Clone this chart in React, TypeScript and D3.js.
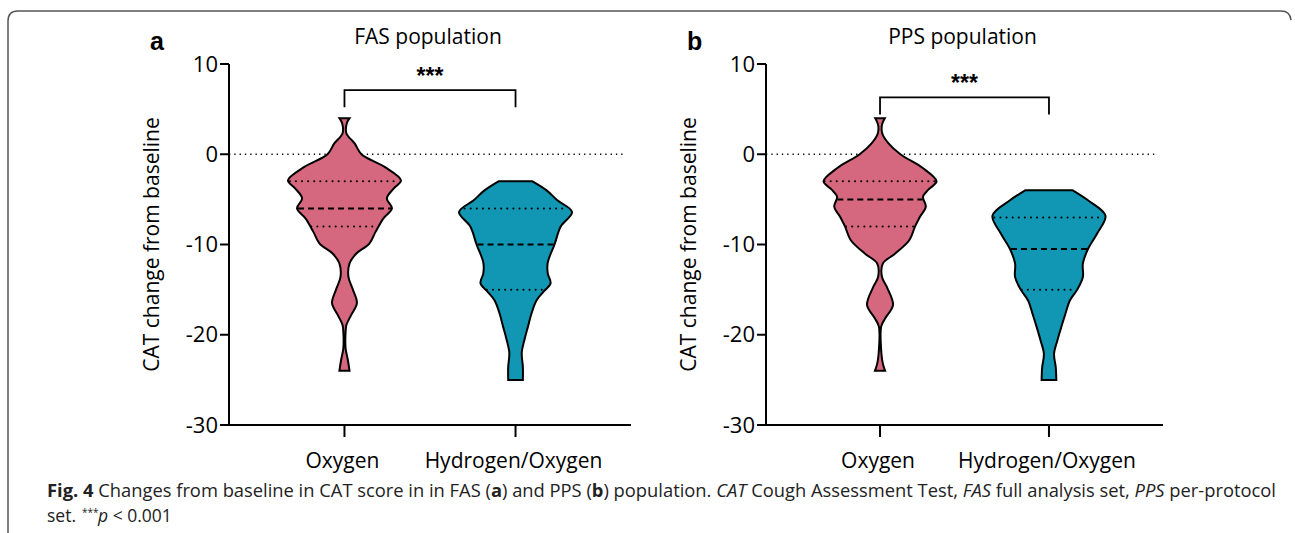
import React from 'react';
import * as d3 from 'd3';

// violin outlines: [value, relative half-width]
const fasOxygen: [number, number][] = [
  [4, 0.09], [3.4, 0.04], [2.3, 0.035], [1.2, 0.18], [0, 0.3], [-1.4, 0.71], [-2.9, 1.0],
  [-3.8, 0.87], [-4.9, 0.75], [-6, 0.84], [-7.1, 0.69], [-8.6, 0.55], [-9.9, 0.44],
  [-11, 0.21], [-12.1, 0.09], [-13.6, 0.07], [-15, 0.15], [-16.5, 0.22], [-17.8, 0.12],
  [-18.9, 0.035], [-19.7, 0.02], [-21.5, 0.02], [-22.8, 0.06], [-24, 0.09],
];
const fasHydrogen: [number, number][] = [
  [-3, 0.3], [-4, 0.55], [-5.1, 0.74], [-6.4, 1.0], [-8, 0.8], [-10, 0.69], [-12, 0.57],
  [-13.2, 0.57], [-14.3, 0.62], [-15.2, 0.5], [-16.2, 0.37], [-17.7, 0.28], [-19.1, 0.22],
  [-20.5, 0.16], [-22, 0.11], [-23.6, 0.13], [-25, 0.13],
];
const ppsOxygen: [number, number][] = [
  [4, 0.085], [3.3, 0.035], [2.3, 0.04], [1.2, 0.15], [0, 0.36], [-1.5, 0.75], [-3, 1.0],
  [-3.9, 0.86], [-4.7, 0.76], [-5.8, 0.81], [-7, 0.7], [-8, 0.62], [-9.5, 0.52], [-11, 0.27],
  [-12.1, 0.05], [-13.6, 0.035], [-14.7, 0.12], [-16.7, 0.23], [-18.2, 0.09], [-19.1, 0.02],
  [-22.1, 0.025], [-23.2, 0.05], [-24, 0.09],
];
const ppsHydrogen: [number, number][] = [
  [-4, 0.42], [-5.1, 0.69], [-6.8, 1.0], [-8.8, 0.85], [-10.5, 0.69], [-12.1, 0.6],
  [-13.6, 0.6], [-15, 0.5], [-16.2, 0.37], [-17.7, 0.29], [-19.1, 0.22], [-20.6, 0.15],
  [-22.1, 0.09], [-23.6, 0.12], [-25, 0.13],
];

// quartiles [q1, median, q3]
const fasOxygenQ = [-3, -6, -8];
const fasHydrogenQ = [-6, -10, -15];
const ppsOxygenQ = [-3, -5, -8];
const ppsHydrogenQ = [-7, -10.5, -15];

const categories = ['Oxygen', 'Hydrogen/Oxygen'];
const yTicks = [10, 0, -10, -20, -30];
const colors = ['#d5677e', '#1197b3'];

const panels = [
  { letter: 'a', title: 'FAS population', left: 229, right: 631, bracket: 7.1,
    violins: [fasOxygen, fasHydrogen], quart: [fasOxygenQ, fasHydrogenQ] },
  { letter: 'b', title: 'PPS population', left: 766, right: 1163, bracket: 6.3,
    violins: [ppsOxygen, ppsHydrogen], quart: [ppsOxygenQ, ppsHydrogenQ] },
];

const font = "'Open Sans', sans-serif";

const y = d3.scaleLinear().domain([-30, 10]).range([425, 64]);
const w = d3.scaleLinear().domain([0, 1]).range([0, 56.5]);

function halfWidthAt(profile: [number, number][], v: number) {
  const s = d3.scaleLinear().domain(profile.map(p => p[0])).range(profile.map(p => p[1]));
  return w(s(v));
}

const Panel = ({ p }: { p: typeof panels[0] }) => {
  const x = d3.scalePoint<string>().domain(categories).range([p.left, p.right]).padding(0.675);
  const axisX = p.left;
  return (
    <g>
      <text x={axisX - 79} y={50} fontFamily="Arial, sans-serif" fontWeight="bold" fontSize={25}>{p.letter}</text>
      <text x={(p.left + p.right) / 2 - 2} y={44} textAnchor="middle" fontFamily={font} fontSize={21}>{p.title}</text>
      <text transform={`translate(${axisX - 70},${y(-10)}) rotate(-90)`} textAnchor="middle"
        fontFamily={font} fontSize={21}>CAT change from baseline</text>
      {/* zero reference */}
      <line x1={axisX} x2={p.right - 5} y1={y(0)} y2={y(0)} stroke="#000" strokeWidth={1.3}
        strokeDasharray="1.3,4" />
      {p.violins.map((prof, i) => {
        const cx = x(categories[i])!;
        const area = d3.area<[number, number]>()
          .y(d => y(d[0]))
          .x0(d => cx - w(d[1]))
          .x1(d => cx + w(d[1]))
          .curve(d3.curveCatmullRom);
        return (
          <g key={i}>
            <path d={area(prof)!} fill={colors[i]} stroke="#000" strokeWidth={2} />
            {p.quart[i].map((q, j) => {
              const hw = halfWidthAt(prof, q) - 1;
              return (
                <line key={j} x1={cx - hw} x2={cx + hw} y1={y(q)} y2={y(q)} stroke="#000"
                  strokeWidth={2} strokeDasharray={j === 1 ? '6,4' : '0.1,6'}
                  strokeLinecap={j === 1 ? 'butt' : 'round'} />
              );
            })}
          </g>
        );
      })}
      {/* significance bracket */}
      <path d={`M${x(categories[0])},${y(p.bracket) + 17}V${y(p.bracket)}H${x(categories[1])}V${y(p.bracket) + 17}`}
        fill="none" stroke="#000" strokeWidth={1.8} />
      <text x={(x(categories[0])! + x(categories[1])!) / 2} y={y(p.bracket) - 6} textAnchor="middle"
        fontFamily="Arial, sans-serif" fontWeight="bold" fontSize={23}>***</text>
      {/* axes */}
      <line x1={axisX} x2={axisX} y1={y(10)} y2={y(-30)} stroke="#000" strokeWidth={2} />
      <line x1={axisX} x2={p.right} y1={y(-30)} y2={y(-30)} stroke="#000" strokeWidth={2} />
      {yTicks.map(t => (
        <g key={t}>
          <line x1={axisX - 9} x2={axisX} y1={y(t)} y2={y(t)} stroke="#000" strokeWidth={2} />
          <text x={axisX - 11} y={y(t)} dy="0.35em" textAnchor="end" fontFamily={font} fontSize={22}>{t}</text>
        </g>
      ))}
      {categories.map(c => (
        <g key={c}>
          <line x1={x(c)} x2={x(c)} y1={y(-30)} y2={y(-30) + 12} stroke="#000" strokeWidth={2} />
          <text x={x(c)! - 2} y={y(-30) + 43} textAnchor="middle" fontFamily={font} fontSize={21}>{c}</text>
        </g>
      ))}
    </g>
  );
};

export default function App() {
  return (
    <svg width={1295} height={533} style={{ position: 'absolute', left: 0, top: 0, background: '#fff' }}>
      <path d="M8,533V21Q8,11,18,11H1281Q1290,11,1291,20" fill="none" stroke="#555" strokeWidth={1.5} />
      {panels.map(p => <Panel key={p.letter} p={p} />)}
      <text x={47} y={497} fontFamily="'Open Sans', sans-serif" fontSize={17.5} fill="#222"
        textLength={1229} lengthAdjust="spacingAndGlyphs">
        <tspan fontWeight="bold">Fig. 4</tspan>
        <tspan>{'  Changes from baseline in CAT score in in FAS ('}</tspan>
        <tspan fontWeight="bold">a</tspan>
        <tspan>{') and PPS ('}</tspan>
        <tspan fontWeight="bold">b</tspan>
        <tspan>{') population. '}</tspan>
        <tspan fontStyle="italic">CAT</tspan>
        <tspan>{' Cough Assessment Test, '}</tspan>
        <tspan fontStyle="italic">FAS</tspan>
        <tspan>{' full analysis set, '}</tspan>
        <tspan fontStyle="italic">PPS</tspan>
        <tspan>{' per-protocol'}</tspan>
      </text>
      <text x={47} y={522} fontFamily={font} fontSize={17.5} fill="#222">set.</text>
      <text x={82} y={516} fontFamily={font} fontSize={10} fill="#222">***</text>
      <text x={98} y={522} fontFamily={font} fontSize={17.5} fill="#222">
        <tspan fontStyle="italic">p</tspan>
        <tspan>{' < 0.001'}</tspan>
      </text>
    </svg>
  );
}
